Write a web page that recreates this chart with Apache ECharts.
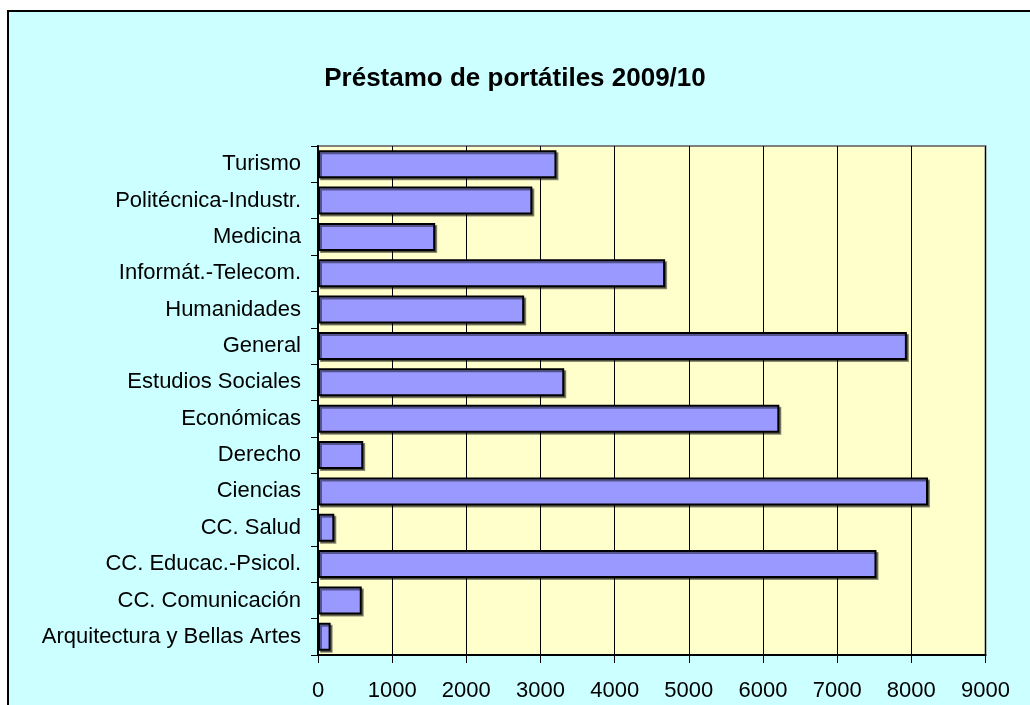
<!DOCTYPE html>
<html>
<head>
<meta charset="utf-8">
<script src="https://cdn.jsdelivr.net/npm/echarts@6/dist/echarts.min.js"></script>
<style>
  html, body { margin: 0; padding: 0; background: #ffffff; }
  #chart { width: 1030px; height: 705px; }
</style>
</head>
<body>
<div id="chart"></div>
<script>
// categories, bottom to top as drawn on the y axis
var centros = ['Arquitectura y Bellas Artes', 'CC. Comunicación', 'CC. Educac.-Psicol.', 'CC. Salud',
    'Ciencias', 'Derecho', 'Económicas', 'Estudios Sociales', 'General', 'Humanidades',
    'Informát.-Telecom.', 'Medicina', 'Politécnica-Industr.', 'Turismo'];
var prestamos = [170, 590, 7530, 220, 8225, 610, 6220, 3320, 7940, 2780, 4680, 1580, 2890, 3215];
var ticksX = [0, 9000, 1000];

var chartDom = document.getElementById('chart');
var myChart = echarts.init(chartDom);

var fuente = 'Liberation Sans, Arial, sans-serif';

var option = {
    backgroundColor: 'transparent',
    animation: false,
    graphic: [
        {
            type: 'rect',
            z: -10,
            shape: { x: 8, y: 11, width: 1040, height: 720 },
            style: { fill: '#ccffff', stroke: '#000000', lineWidth: 2 }
        },
        {
            type: 'rect',
            z: -5,
            shape: { x: 318, y: 146, width: 667.5, height: 509 },
            style: { fill: '#ffffcc', stroke: '#808080', lineWidth: 2 }
        }
    ],
    title: {
        text: 'Préstamo de portátiles 2009/10',
        left: 'center',
        top: 61,
        textStyle: { fontFamily: fuente, fontSize: 26, fontWeight: 'bold', color: '#000000' }
    },
    grid: { left: 318, top: 146, right: 44.5, bottom: 50 },
    xAxis: {
        type: 'value',
        min: ticksX[0],
        max: ticksX[1],
        interval: ticksX[2],
        axisLine: { show: true, lineStyle: { color: '#000000', width: 2 } },
        axisTick: { show: true, length: 8, lineStyle: { color: '#000000' } },
        axisLabel: {
            fontFamily: fuente, fontSize: 22, color: '#000000', margin: 25,
            formatter: function (v) { return String(v); }
        },
        splitLine: { show: true, lineStyle: { color: '#000000', width: 1 } }
    },
    yAxis: {
        type: 'category',
        data: centros,
        axisLine: { show: true, lineStyle: { color: '#000000', width: 2 } },
        axisTick: { show: true, length: 7, lineStyle: { color: '#000000' } },
        axisLabel: { fontFamily: fuente, fontSize: 22, color: '#000000', margin: 17 },
        splitLine: { show: false }
    },
    series: [
        {
            type: 'bar',
            data: prestamos,
            barWidth: 28,
            itemStyle: {
                color: '#9999ff',
                borderColor: '#000000',
                borderWidth: 2,
                shadowColor: 'rgba(0,0,0,0.45)',
                shadowOffsetX: 2,
                shadowOffsetY: 2,
                shadowBlur: 0
            }
        }
    ]
};

option && myChart.setOption(option);
</script>
</body>
</html>
